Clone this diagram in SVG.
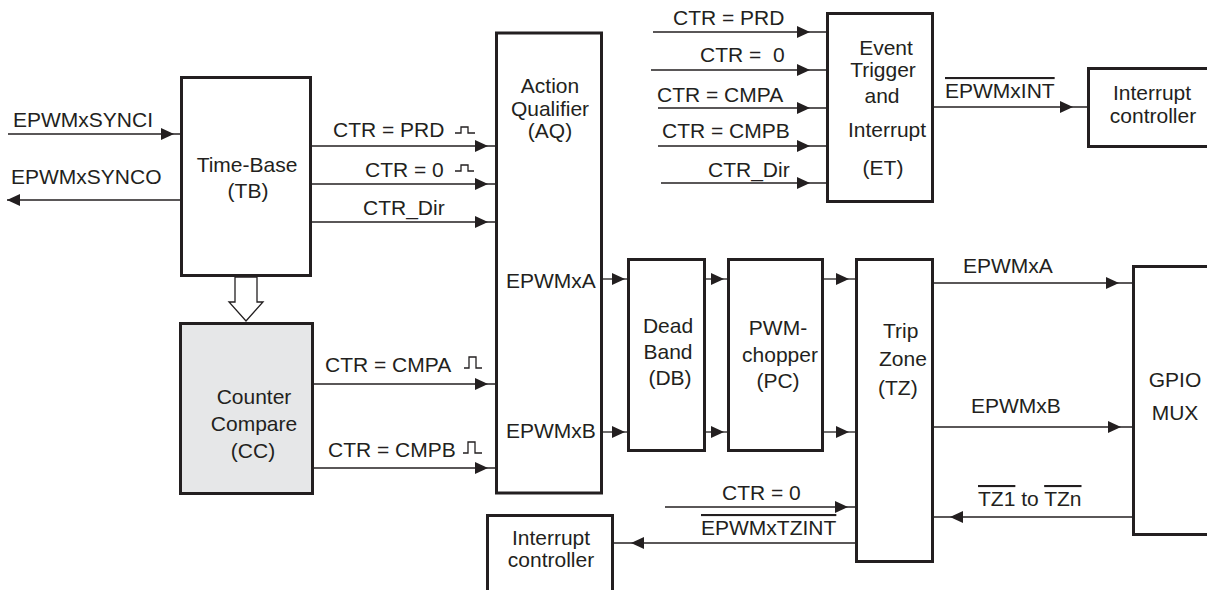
<svg xmlns="http://www.w3.org/2000/svg" width="1207" height="590" viewBox="0 0 1207 590">
<style>
  text { font-family: "Liberation Sans", Arial, sans-serif; font-size: 21px; fill: #231f20; }
  .c { text-anchor: middle; }
  .box { fill: #ffffff; stroke: #231f20; stroke-width: 3; }
  .grey { fill: #e6e7e8; }
  .wire { fill: none; stroke: #231f20; stroke-width: 1.3; }
  .mid { marker-mid: url(#ah); }
  .end { marker-end: url(#ah); }
  .ol { text-decoration: overline; }
</style>
<defs>
  <marker id="ah" markerUnits="userSpaceOnUse" viewBox="0 0 13 12" refX="13" refY="6" markerWidth="13" markerHeight="12" orient="auto">
    <path d="M0,0 L13,6 L0,12 Z" fill="#231f20"/>
  </marker>
</defs>

<g id="connectors">
  <!-- sync -->
  <path class="wire mid" d="M8,134 L174,134 L180,134"/>
  <path class="wire end" d="M180,200 L7,200"/>
  <!-- TB to AQ -->
  <path class="wire mid" d="M312,146 L488,146 L495,146"/>
  <path class="wire mid" d="M312,184 L488,184 L495,184"/>
  <path class="wire mid" d="M312,222 L488,222 L495,222"/>
  <!-- CC to AQ -->
  <path class="wire mid" d="M314,384 L488,384 L495,384"/>
  <path class="wire mid" d="M314,468 L488,468 L495,468"/>
  <!-- TB to CC hollow arrow -->
  <polygon points="235,277 235,302 229,302 246,321 263,302 257,302 257,277" fill="#ffffff" stroke="#231f20" stroke-width="1.3"/>
  <!-- pulses -->
  <path class="wire" d="M455,133 H461 V127 H468 V133 H475"/>
  <path class="wire" d="M455,171 H461 V165 H468 V171 H474"/>
  <path class="wire" d="M464,368 H469 V357 H476 V368 H482"/>
  <path class="wire" d="M463,453 H468 V442 H475 V453 H482"/>
  <!-- AQ -> DB -> PC -> TZ -->
  <path class="wire mid" d="M603,279 L625,279 L627,279"/>
  <path class="wire mid" d="M603,432 L625,432 L627,432"/>
  <path class="wire mid" d="M706,279 L724,279 L727,279"/>
  <path class="wire mid" d="M706,432 L724,432 L727,432"/>
  <path class="wire mid" d="M824,279 L849,279 L855,279"/>
  <path class="wire mid" d="M824,432 L849,432 L855,432"/>
  <!-- TZ -> GPIO -->
  <path class="wire mid" d="M934,283 L1119,283 L1132,283"/>
  <path class="wire mid" d="M934,427 L1121,427 L1132,427"/>
  <!-- GPIO -> TZ -->
  <path class="wire mid" d="M1132,517 L950,517 L934,517"/>
  <!-- CTR=0 -> TZ -->
  <path class="wire mid" d="M665,507 L848,507 L855,507"/>
  <!-- TZ -> bottom IC -->
  <path class="wire mid" d="M855,543 L631,543 L614,543"/>
  <!-- ET inputs -->
  <path class="wire mid" d="M653,32 L810,32 L827,32"/>
  <path class="wire mid" d="M651,70 L810,70 L827,70"/>
  <path class="wire mid" d="M658,108 L810,108 L827,108"/>
  <path class="wire mid" d="M658,146 L810,146 L827,146"/>
  <path class="wire mid" d="M661,183 L810,183 L827,183"/>
  <!-- ET -> IC -->
  <path class="wire mid" d="M934,107 L1073,107 L1088,107"/>

  <!-- connector labels -->
  <text x="13" y="127">EPWMxSYNCI</text>
  <text x="11" y="184">EPWMxSYNCO</text>
  <text x="333" y="137">CTR = PRD</text>
  <text x="365" y="177">CTR = 0</text>
  <text x="363" y="215">CTR_Dir</text>
  <text x="325" y="372">CTR = CMPA</text>
  <text x="328" y="457">CTR = CMPB</text>
  <text x="963" y="273">EPWMxA</text>
  <text x="971" y="413">EPWMxB</text>
  <text x="978" y="506"><tspan class="ol">TZ1</tspan> to <tspan class="ol">TZn</tspan></text>
  <text x="722" y="500">CTR = 0</text>
  <text x="701" y="535" class="ol">EPWMxTZINT</text>
  <text x="673" y="25">CTR = PRD</text>
  <text x="700" y="62" xml:space="preserve">CTR =  0</text>
  <text x="657" y="102">CTR = CMPA</text>
  <text x="662" y="138">CTR = CMPB</text>
  <text x="708" y="177">CTR_Dir</text>
  <text x="945" y="98" class="ol">EPWMxINT</text>
</g>

<g id="tb">
  <rect class="box" x="181.5" y="77.5" width="129" height="198"/>
  <text class="c" x="247" y="172">Time-Base</text>
  <text class="c" x="248" y="198">(TB)</text>
</g>

<g id="cc">
  <rect class="box grey" x="180.5" y="323.5" width="132" height="170"/>
  <text class="c" x="254" y="404">Counter</text>
  <text class="c" x="254" y="431">Compare</text>
  <text class="c" x="253" y="458">(CC)</text>
</g>

<g id="aq">
  <rect class="box" x="496.5" y="33" width="105" height="460"/>
  <text class="c" x="550" y="93">Action</text>
  <text class="c" x="550" y="116">Qualifier</text>
  <text class="c" x="550" y="138">(AQ)</text>
  <text x="506" y="288">EPWMxA</text>
  <text x="506" y="438">EPWMxB</text>
</g>

<g id="db">
  <rect class="box" x="628.5" y="259.5" width="76" height="191"/>
  <text class="c" x="668" y="333">Dead</text>
  <text class="c" x="668" y="359">Band</text>
  <text class="c" x="670" y="385">(DB)</text>
</g>

<g id="pc">
  <rect class="box" x="728.5" y="259.5" width="94" height="191"/>
  <text class="c" x="778" y="335">PWM-</text>
  <text class="c" x="780" y="362">chopper</text>
  <text class="c" x="778" y="388">(PC)</text>
</g>

<g id="tz">
  <rect class="box" x="856.5" y="259.5" width="76" height="302"/>
  <text x="883" y="338">Trip</text>
  <text x="879" y="366">Zone</text>
  <text x="878" y="395">(TZ)</text>
</g>

<g id="gpio">
  <rect class="box" x="1133.5" y="266.5" width="90" height="268"/>
  <text class="c" x="1175" y="387">GPIO</text>
  <text class="c" x="1175" y="420">MUX</text>
</g>

<g id="et">
  <rect class="box" x="827.5" y="13.5" width="105" height="188"/>
  <text class="c" x="886" y="55">Event</text>
  <text class="c" x="883" y="77">Trigger</text>
  <text class="c" x="882" y="103">and</text>
  <text class="c" x="887" y="137">Interrupt</text>
  <text class="c" x="883" y="175">(ET)</text>
</g>

<g id="ic-top">
  <rect class="box" x="1088.5" y="68.5" width="130" height="78"/>
  <text class="c" x="1152" y="100">Interrupt</text>
  <text class="c" x="1153" y="123">controller</text>
</g>

<g id="ic-bottom">
  <rect class="box" x="487.5" y="515.5" width="125" height="100"/>
  <text class="c" x="551" y="545">Interrupt</text>
  <text class="c" x="551" y="567">controller</text>
</g>
</svg>
